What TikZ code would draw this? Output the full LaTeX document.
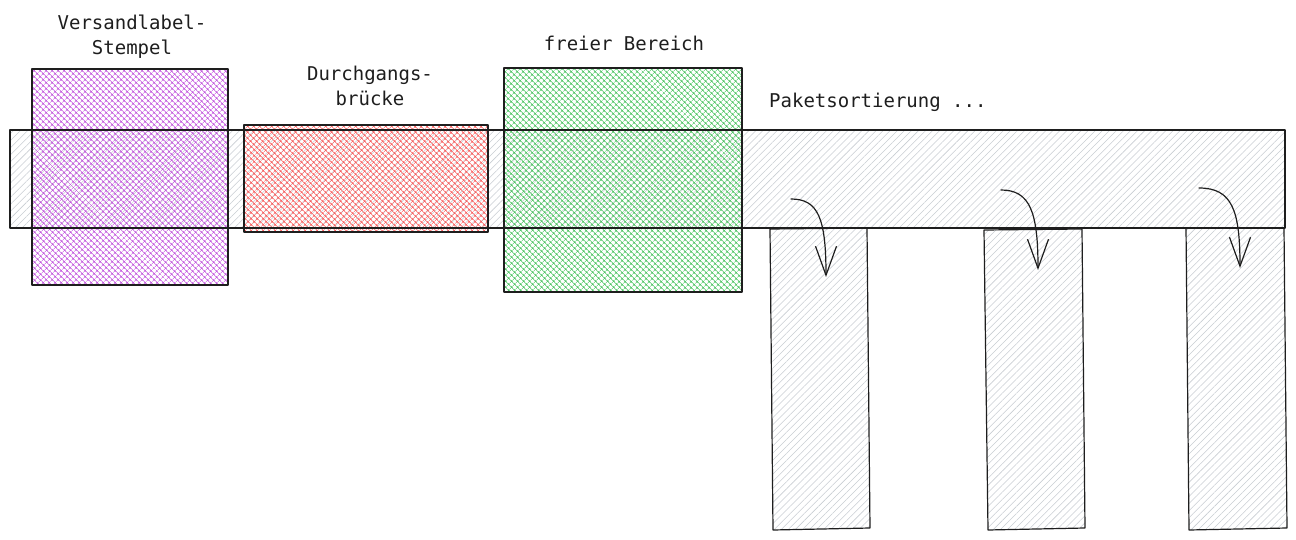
\documentclass[tikz,border=0pt]{standalone}
\usepackage{fontspec}
\setmonofont{DejaVu Sans Mono}
\usetikzlibrary{patterns.meta,arrows.meta}
\definecolor{ink}{HTML}{1E1E1E}
\definecolor{cpurple}{HTML}{BE4BDB}
\definecolor{cred}{HTML}{FA5252}
\definecolor{cgreen}{HTML}{40C057}
\definecolor{cgray}{HTML}{C8CDD2}
\tikzset{
  outline/.style={draw=ink, line width=1.2pt, line join=round},
  grayhatch/.style={pattern={Lines[angle=45,distance=5pt,line width=0.55pt]}, pattern color=cgray},
  crosshatch/.style={pattern={Hatch[angle=45,distance=4pt,line width=0.55pt]}, pattern color=#1},
  lbl/.style={font=\ttfamily\fontsize{19}{25}\selectfont, text=ink, inner sep=0pt, align=center},
  flow/.style={draw=ink, line width=1.2pt, line cap=round, -{Straight Barb[length=29pt,width=21pt,line width=1.2pt]}}
}
\begin{document}
\begin{tikzpicture}[x=1pt,y=-1pt]
\useasboundingbox (0,0) rectangle (1296,540);
% fills
\fill[grayhatch] (10,130) rectangle (1285,228);
\fill[grayhatch] (770,229) -- (867,228) -- (870,528) -- (773,530) -- cycle;
\fill[grayhatch] (984,230) -- (1082,229) -- (1085,528) -- (988,530) -- cycle;
\fill[grayhatch] (1186,228) -- (1284,228) -- (1287,528) -- (1189,530) -- cycle;
\fill[crosshatch=cpurple] (32,69) rectangle (228,285);
\fill[crosshatch=cred] (244,125) rectangle (488,232);
\fill[crosshatch=cgreen] (504,68) rectangle (742,292);
% outlines
\draw[outline] (10,130) rectangle (1285,228);
\draw[outline] (770,229) -- (867,228) -- (870,528) -- (773,530) -- cycle;
\draw[outline] (984,230) -- (1082,229) -- (1085,528) -- (988,530) -- cycle;
\draw[outline] (1186,228) -- (1284,228) -- (1287,528) -- (1189,530) -- cycle;
\draw[outline] (32,69) rectangle (228,285);
\draw[outline] (244,125) rectangle (488,232);
\draw[outline] (504,68) rectangle (742,292);
% labels
\node[lbl, anchor=base] (t1) at (132,55) {Versandlabel-\\Stempel};
\node[lbl, anchor=base] (t2) at (370,106) {Durchgangs-\\brücke};
\node[lbl, anchor=base] (t3) at (624,51) {freier Bereich};
\node[lbl, anchor=base west] (t4) at (769,108) {Paketsortierung ...};
% arrows
\coordinate (a1s) at (791,199); \coordinate (a1e) at (826,277);
\coordinate (a2s) at (1001,190); \coordinate (a2e) at (1038,270);
\coordinate (a3s) at (1199,188); \coordinate (a3e) at (1240,268);
\draw[flow] (a1s) .. controls (818,199) and (826,218) .. (a1e);
\draw[flow] (a2s) .. controls (1030,190) and (1038,212) .. (a2e);
\draw[flow] (a3s) .. controls (1232,188) and (1240,210) .. (a3e);
\end{tikzpicture}
\end{document}
